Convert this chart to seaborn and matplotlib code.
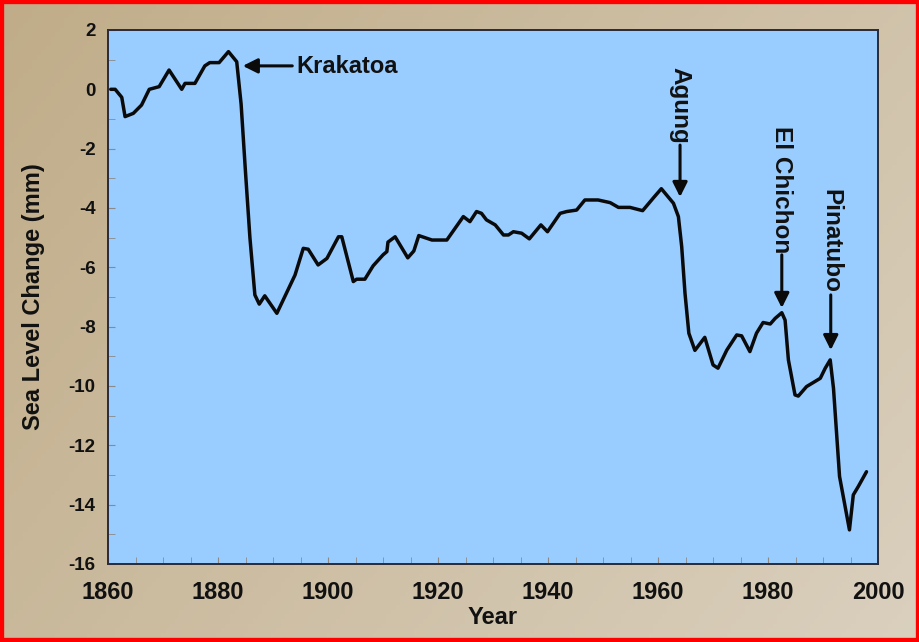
import numpy as np
import matplotlib
matplotlib.use('Agg')
import matplotlib.pyplot as plt
from matplotlib.patches import Rectangle
from matplotlib.ticker import MultipleLocator
import seaborn as sns

# sea level change
years = [1860.5, 1861.3, 1862.5, 1863.1, 1864.6, 1866.1, 1867.5, 1869.3, 1871.1, 1873.4,
         1874.0, 1875.8, 1877.6, 1878.5, 1880.2, 1881.9, 1883.4, 1884.2, 1885.0, 1885.8,
         1886.7, 1887.5, 1888.5, 1890.7, 1894.0, 1895.5, 1896.4, 1898.2, 1899.8, 1901.9,
         1902.5, 1904.6, 1905.2, 1906.7, 1908.2, 1910.0, 1910.7, 1910.9, 1912.2, 1914.5,
         1915.6, 1916.5, 1918.9, 1921.6, 1924.6, 1925.8, 1927.0, 1927.9, 1928.8, 1930.4,
         1931.9, 1932.8, 1933.7, 1935.2, 1936.6, 1938.7, 1939.9, 1942.2, 1943.4, 1945.2,
         1946.7, 1949.1, 1951.3, 1952.8, 1954.9, 1957.2, 1959.2, 1960.6, 1962.8, 1963.7,
         1964.3, 1964.9, 1965.6, 1966.7, 1968.5, 1970.0, 1970.9, 1972.5, 1974.3, 1975.2,
         1976.7, 1977.9, 1979.1, 1980.4, 1981.3, 1982.5, 1983.1, 1983.7, 1984.9, 1985.5,
         1987.0, 1989.5, 1990.4, 1991.3, 1991.9, 1993.0, 1994.8, 1995.5, 1996.4, 1997.9]
sea_level = [0.0, 0.0, -0.27, -0.92, -0.81, -0.53, 0.0, 0.09, 0.65, 0.0,
             0.2, 0.2, 0.79, 0.9, 0.9, 1.27, 0.93, -0.5, -2.8, -5.0,
             -6.93, -7.24, -6.96, -7.55, -6.26, -5.36, -5.39, -5.92, -5.7, -4.97,
             -4.97, -6.48, -6.4, -6.4, -5.95, -5.58, -5.47, -5.15, -4.97, -5.68,
             -5.45, -4.93, -5.08, -5.08, -4.29, -4.46, -4.12, -4.18, -4.4, -4.57,
             -4.91, -4.91, -4.8, -4.85, -5.04, -4.57, -4.8, -4.18, -4.12, -4.07,
             -3.73, -3.73, -3.82, -3.98, -3.98, -4.09, -3.65, -3.35, -3.84, -4.29,
             -5.3, -6.87, -8.22, -8.8, -8.36, -9.29, -9.4, -8.79, -8.28, -8.31,
             -8.84, -8.22, -7.86, -7.91, -7.72, -7.53, -7.78, -9.12, -10.3, -10.34,
             -10.02, -9.74, -9.4, -9.12, -10.08, -13.05, -14.85, -13.67, -13.39, -12.89]

# eruptions and where their arrows point
volcanoes = ['Krakatoa', 'Agung', 'El Chichon', 'Pinatubo']
erupt_year = [1884.5, 1964.0, 1982.5, 1991.4]
tip_level = [0.79, -3.63, -7.37, -8.79]

x_ticks = list(range(1860, 2001, 20))
y_ticks = list(range(-16, 3, 2))

sns.set_style('ticks')
plt.rcParams['font.family'] = ['Liberation Sans', 'DejaVu Sans']
plt.rcParams['font.weight'] = 'bold'
plt.rcParams['axes.labelweight'] = 'bold'
plt.rcParams['axes.unicode_minus'] = False

fig = plt.figure(figsize=(9.2, 6.42), dpi=100)

# beige gradient backdrop
bg = fig.add_axes([0, 0, 1, 1], zorder=-10)
gx, gy = np.meshgrid(np.linspace(0, 1, 200), np.linspace(0, 1, 140))
t = np.clip(0.65 * gx + 0.35 * gy, 0, 1)[..., None]
c0 = np.array([192, 172, 136]) / 255
c1 = np.array([218, 208, 190]) / 255
bg.imshow(c0 + (c1 - c0) * t, aspect='auto', extent=[0, 1, 0, 1], origin='upper')
bg.set_axis_off()

ax = fig.add_axes([0.1174, 0.1215, 0.837, 0.8318])
ax.set_facecolor('#99CCFF')
sns.lineplot(x=years, y=sea_level, ax=ax, color='#0a0a0a', lw=2.5)

ax.set_xlim(1860, 2000)
ax.set_ylim(-16, 2)
ax.set_xticks(x_ticks)
ax.set_yticks(y_ticks)
ax.xaxis.set_minor_locator(MultipleLocator(5))
ax.yaxis.set_minor_locator(MultipleLocator(1))
ax.tick_params(axis='x', which='both', direction='in', length=5, color='#8a8a8a',
               labelsize=17, pad=12, labelcolor='#111111')
ax.tick_params(axis='y', which='both', direction='in', length=5, color='#8a8a8a',
               labelsize=13.5, pad=9, labelcolor='#111111')
for s in ax.spines.values():
    s.set_color('#2a2a38')
    s.set_linewidth(1.4)

ax.set_xlabel('Year', fontsize=17, color='#111111', labelpad=2)
ax.set_ylabel('Sea Level Change (mm)', fontsize=17, color='#111111')
ax.yaxis.set_label_coords(-0.082, 0.5)

arrow = dict(arrowstyle='-|>', color='#0a0a0a', lw=2.2, mutation_scale=22,
             shrinkA=0, shrinkB=0)

# Krakatoa: horizontal arrow pointing left
ax.annotate('', xy=(erupt_year[0], tip_level[0]), xytext=(1893.5, tip_level[0]),
            arrowprops=arrow)
ax.text(1894.3, tip_level[0] - 0.02, volcanoes[0], fontsize=17, ha='left', va='center',
        color='#111111')

# the rest: rotated labels with arrows pointing down
tails = [-1.88, -5.58, -6.93]
text_tops = [0.75, -1.25, -3.35]
for name, yr, tip, tail, top in zip(volcanoes[1:], erupt_year[1:], tip_level[1:],
                                    tails, text_tops):
    ax.annotate('', xy=(yr, tip), xytext=(yr, tail), arrowprops=arrow)
    ax.text(yr, top, name, fontsize=17.5, rotation=270, ha='center', va='top',
            color='#111111')

# red frame round the picture
fig.patches.append(Rectangle((0, 0), 1, 1, transform=fig.transFigure, fill=False,
                             edgecolor='#ff0000', lw=6, zorder=100))

fig.savefig('out.png', dpi=100)
